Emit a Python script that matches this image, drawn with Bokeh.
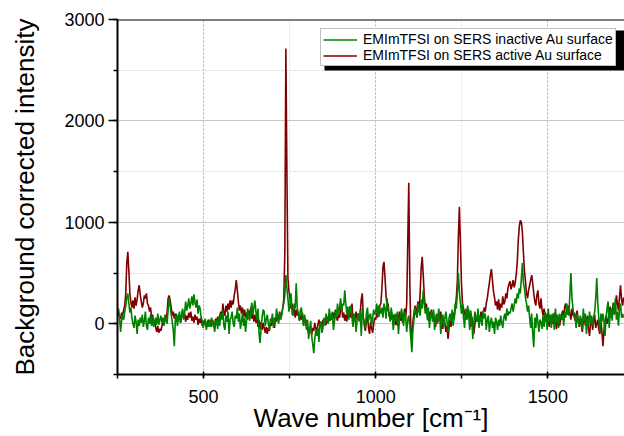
from bokeh.plotting import figure
from bokeh.models import (Range1d, Span, Legend, LegendItem, SingleIntervalTicker,
                          ColumnDataSource, BoxAnnotation)
from bokeh.embed import file_html
from bokeh.resources import INLINE

# wave numbers (cm-1), 3 cm-1 step starting at 250
wn_start = 250
wn_step = 3

# EMImTFSI on SERS active Au surface
active = [
    130, 100, 70, 50, 110, 90, 140, 180, 300, 600,
    710, 520, 300, 210, 160, 230, 150, 260, 180, 240,
    330, 380, 290, 220, 160, 200, 280, 250, 300, 200,
    180, 120, 160, 60, 90, 10, 40, -40, -80, -20,
    -90, -50, -70, -20, 20, -10, 60, 40, 110, 250,
    280, 230, 160, 80, 120, 50, 100, 20, 80, 40,
    90, 10, 70, 130, 50, 100, 20, 80, 40, 110,
    60, 120, 30, 70, 10, 90, 40, 70, -10, 50,
    10, 60, -20, 30, -10, 20, -30, 10, 40, -20,
    20, -30, 40, 0, -40, 50, 10, 70, 20, 80,
    120, 60, 200, 110, 80, 180, 120, 200, 140, 230,
    160, 230, 190, 280, 340, 430, 330, 220, 130, 180,
    100, 160, 70, 140, 60, 110, 40, 130, 80, 160,
    50, 100, 20, 90, 10, 70, -30, 40, -50, 20,
    -60, 10, -40, -90, -30, -100, -40, -70, 10, -20,
    50, -10, -40, 60, 20, 90, 30, 120, 60, 100,
    150, 250, 700, 2714, 1500, 450, 320, 260, 150, 200,
    110, 160, 60, 140, 80, 120, 30, 90, 40, 110,
    20, 70, -20, 40, -40, -90, -30, -60, -110, -40,
    -70, 10, -50, -80, -10, 40, -30, 20, -20, 40,
    0, 50, -10, 70, 10, 80, 30, 100, 40, 110,
    50, 140, 60, 30, 100, 60, 150, 170, 60, 110,
    30, 90, 20, 140, 70, 170, 60, 200, 40, 90,
    20, 120, 50, 100, 30, 110, 240, 300, 60, -20,
    -70, 40, 80, -40, -100, 20, -40, -90, 0, 60,
    40, 100, 130, 70, 180, 200, 350, 560, 610, 450,
    280, 160, 200, 70, 110, 40, 100, 20, 90, -10,
    60, -20, 50, 120, 30, 90, 10, 80, 150, 60,
    200, 800, 1390, 400, -60, -150, 20, 100, 180, 90,
    160, 220, 120, 300, 550, 660, 480, 280, 150, 200,
    90, 30, 120, 60, 140, 50, 100, 10, -30, 80,
    20, 90, 30, 120, -20, -50, 60, 0, -80, -20,
    -150, -40, 40, -30, 60, 110, 50, 160, 250, 420,
    850, 1154, 800, 400, 200, 150, 80, 130, 40, 110,
    140, 20, -30, 70, -20, -100, 0, 60, 20, 90,
    10, 70, 120, 40, 100, 160, 120, 200, 250, 330,
    400, 480, 540, 430, 320, 260, 180, 220, 140, 240,
    130, 200, 160, 270, 190, 220, 300, 250, 350, 390,
    420, 340, 380, 430, 360, 400, 480, 600, 820, 960,
    1020, 1000, 900, 700, 520, 420, 300, 250, 330, 380,
    430, 480, 400, 300, 220, 180, 280, 330, 200, 150,
    250, 140, 80, 150, 60, 20, 100, 40, -30, 50,
    80, 0, 50, 110, 40, -50, 20, 60, -20, 40,
    90, 130, 60, 170, 200, 120, 90, 180, 100, 40,
    150, 80, 110, 30, 90, 130, 40, -30, 50, -10,
    -80, 30, 60, -20, 40, 80, -50, -120, 10, 50,
    -60, 20, 90, -40, 0, 40, -60, -100, 30, -80,
    -220, -60, 20, 80, 0, 40, 120, 170, 60, 120,
    210, 90, 150, 280, 200, 130, 260, 380, 240, 180,
    260,
]

# EMImTFSI on SERS inactive Au surface
inactive = [
    80, 150, 60, -80, 30, 90, 40, 120, 180, 260,
    300, 200, 110, 160, 50, 0, -40, 80, 20, -100,
    40, -20, 60, 10, 90, -30, 30, 120, -20, -60,
    60, 0, 90, -20, 70, -30, 20, 60, -10, 100,
    -10, 40, 80, 10, 60, -20, 90, 30, 0, 140,
    250, 180, 90, 20, -60, -220, 40, 100, -20, 60,
    120, 10, 80, 150, 40, 110, 220, 130, 180, 250,
    150, 200, 270, 180, 290, 210, 160, 240, 100, 180,
    150, 60, 30, -40, 20, 50, -60, 10, -30, 40,
    -30, 60, -10, 30, -80, 0, 40, -50, 70, -20,
    100, 40, 130, -20, -60, 80, 20, 120, -100, 40,
    60, 120, 0, -30, 80, 50, 160, 20, 100, -50,
    20, 110, -20, 60, -80, 40, 150, 80, 30, 120,
    210, 90, 160, 230, 120, 40, 150, -90, -190, -40,
    60, 140, 120, -20, 40, 90, 0, -60, 50, 30,
    100, -40, 60, 20, 150, 80, 0, 110, 40, 90,
    160, 200, 280, 480, 350, 250, 120, 180, 300, 100,
    80, 200, 150, 400, 160, 100, 40, 130, 160, 60,
    -20, 90, 30, -60, 40, -150, -60, 30, -120, -200,
    -290, -150, -60, -120, -40, -180, 0, 20, -90, -30,
    60, -20, 100, 30, 0, 150, 70, 40, 120, -60,
    20, 120, 60, 200, 90, 160, 250, 130, 200, 180,
    330, 200, 100, 170, 40, 150, 180, 60, -30, 100,
    60, -80, 40, 100, 20, 130, -120, 150, 60, 10,
    -40, 100, 160, 30, 80, 100, -20, 60, 140, 90,
    120, 200, 60, 180, 140, 100, 160, 60, 200, 150,
    50, 250, 130, 100, 20, 160, 80, -60, 40, 100,
    20, 120, -100, 40, 80, 150, 60, -20, 120, 60,
    -80, 40, 80, -20, -150, -280, -60, 40, 160, 100,
    60, 200, 120, 80, 240, 150, 330, 200, 100, 160,
    40, 160, -40, 80, 120, 20, 140, -60, 60, 100,
    0, 150, 60, -100, 40, 90, -30, 60, 120, 20,
    -80, 60, 100, 20, 140, -20, 70, 200, 150, 300,
    500, 320, 200, 100, 200, 60, -40, 150, 40, 180,
    90, -60, 130, 40, -150, 20, 120, 60, 20, 150,
    -40, 80, 30, -20, 130, 50, 100, -60, 40, 80,
    -80, 10, 60, -40, 20, -100, 60, 20, -60, 40,
    -20, 80, 10, -40, 60, 100, 30, 150, 80, 120,
    100, 150, 200, 120, 180, 250, 200, 300, 250, 350,
    300, 450, 600, 400, 350, 250, 200, 120, 180, 60,
    -40, 100, -100, -230, 60, -40, 100, 20, -80, 40,
    20, -50, 80, -30, 120, 40, -60, 150, 20, 90,
    -40, 100, 40, -60, 150, 20, 90, -40, 100, 60,
    40, 100, -20, 120, 60, 200, 120, 80, 300, 500,
    250, 150, 60, 100, -40, 100, 20, -20, 80, 40,
    -60, 150, 30, 100, -100, 60, -20, 120, 0, 80,
    -20, 60, 120, 250, 450, 200, 40, -80, 100, 20,
    100, 20, -120, 60, 160, 220, -40, 90, 150, 30,
    200, 100, 250, 40, 120, -20, 150, 200, 60, 100,
    60,
]

wave = [wn_start + wn_step * i for i in range(len(active))]

labels = ["EMImTFSI on SERS inactive Au surface",
          "EMImTFSI on SERS active Au surface"]
colors = ["#008000", "#800000"]
x_title = "Wave number [cm\u207b\u00b9]"
y_title = "Background corrected intensity"

FONT = "Liberation Sans"

W, H = 624, 436
ML, MT, MB = 117, 19, 62
fw = W - ML
fh = H - MT - MB

p = figure(width=W, height=H, output_backend="svg", toolbar_location=None,
           x_range=Range1d(250, 250 + fw / 0.3443), y_range=Range1d(-500, 3000),
           min_border_left=ML, min_border_right=0, min_border_top=MT,
           min_border_bottom=MB)
p.outline_line_color = None
p.background_fill_color = "white"
p.border_fill_color = "white"

src = ColumnDataSource(dict(x=wave, a=active, b=inactive))
r_act = p.line("x", "a", source=src, line_color=colors[1], line_width=1.6)
r_inact = p.line("x", "b", source=src, line_color=colors[0], line_width=1.6)

# axes
p.xaxis.ticker = SingleIntervalTicker(interval=500, num_minor_ticks=2)
p.yaxis.ticker = SingleIntervalTicker(interval=1000, num_minor_ticks=2)
for ax in (p.xaxis[0], p.yaxis[0]):
    ax.axis_line_width = 2
    ax.axis_line_color = "black"
    ax.major_tick_line_color = "black"
    ax.minor_tick_line_color = "black"
    ax.major_tick_line_width = 1.5
    ax.minor_tick_line_width = 1.5
    ax.major_label_text_font = FONT
    ax.major_label_text_font_size = "18px"
    ax.major_label_text_color = "black"
    ax.axis_label_text_font = FONT
    ax.axis_label_text_font_size = "26px"
    ax.axis_label_text_font_style = "normal"
    ax.axis_label_text_color = "black"

p.yaxis.major_tick_out = 9
p.yaxis.major_tick_in = 0
p.yaxis.minor_tick_out = 4
p.yaxis.minor_tick_in = 0
p.yaxis.major_label_standoff = 4
p.yaxis.axis_label = y_title
p.yaxis.axis_label_standoff = 21

p.xaxis.major_tick_out = 3
p.xaxis.major_tick_in = 3
p.xaxis.minor_tick_out = 4
p.xaxis.minor_tick_in = 0
p.xaxis.major_label_standoff = 11
p.xaxis.axis_label = x_title
p.xaxis.axis_label_standoff = -3

# grids
p.ygrid.grid_line_color = "#c8c8c8"
p.ygrid.grid_line_width = 1
p.ygrid.minor_grid_line_color = "#d4d4d4"
p.ygrid.minor_grid_line_dash = "2 2"
p.xgrid.grid_line_color = "#b4b4b4"
p.xgrid.grid_line_dash = "2 2"
p.xgrid.minor_grid_line_color = "#e0e0e0"
p.xgrid.minor_grid_line_dash = "2 2"

# top frame line
p.add_layout(Span(location=3000, dimension="width", line_color="black", line_width=2))

# legend with black drop shadow
lx, ly, lw, lh = 203, 308, 300, 40
shadow = BoxAnnotation(left=lx + 4, right=lx + lw + 4, bottom=ly - 4, top=ly + lh - 4,
                       left_units="screen", right_units="screen",
                       bottom_units="screen", top_units="screen",
                       fill_color="black", fill_alpha=1, line_color=None,
                       level="overlay")
legend = Legend(items=[LegendItem(label=labels[0], renderers=[r_inact]),
                       LegendItem(label=labels[1], renderers=[r_act])],
                location=(lx, ly))
legend.label_text_font = FONT
legend.label_text_font_size = "14px"
legend.label_text_color = "black"
legend.glyph_width = 34
legend.glyph_height = 13
legend.label_height = 13
legend.label_standoff = 6
legend.spacing = 0
legend.padding = 2
legend.margin = 0
legend.background_fill_color = "white"
legend.background_fill_alpha = 1
legend.border_line_color = "#808080"
legend.border_line_width = 1
legend.level = "overlay"
p.add_layout(shadow)
p.add_layout(legend, "center")

open("out.html", "w").write(file_html(p, INLINE))
